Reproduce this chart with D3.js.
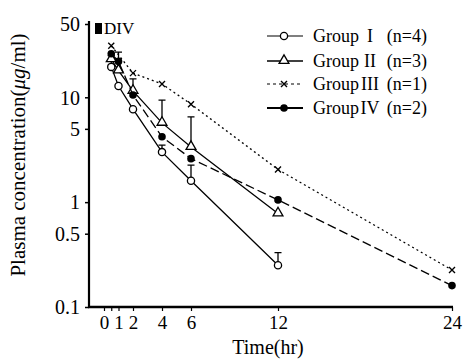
<!DOCTYPE html>
<html>
<head>
<meta charset="utf-8">
<script src="https://cdn.jsdelivr.net/npm/d3@7"></script>
<style>
  body { margin: 0; background: #fff; }
  text { font-family: "Liberation Serif", "DejaVu Serif", serif; fill: #000; }
</style>
</head>
<body>
<div id="chart"></div>
<script>
// values
var yTicks = [0.1, 0.5, 1, 5, 10, 50];
var yTickLabels = ["0.1", "0.5", "1", "5", "10", "50"];
var xTicks = [0, 0.5, 1, 2, 4, 6, 12, 24];
var xTickLabels = ["0", "", "1", "2", "4", "6", "12", "24"];

var timesI = [0.5, 1, 2, 4, 6, 12];
var groupI = [19.5, 12.8, 7.7, 3.0, 1.6, 0.25];
var groupIErr = [25, null, null, 3.5, 2.25, 0.33];

var timesII = [0.5, 1, 2, 4, 6, 12];
var groupII = [23, 18, 11.5, 5.7, 3.35, 0.78];
var groupIIErr = [null, 27, 15, 9.4, 6.5, null];

var timesIII = [0.5, 2, 4, 6, 12, 24];
var groupIII = [31, 17, 13.4, 8.6, 2.05, 0.225];

var timesIV = [0.5, 1, 2, 4, 6, 12, 24];
var groupIV = [26, 22, 10.5, 4.2, 2.6, 1.05, 0.16];

var legendNumerals = ["I", "II", "III", "IV"];
var legendCounts = ["(n=4)", "(n=3)", "(n=1)", "(n=2)"];

var width = 463, height = 363;
var svg = d3.select("#chart").append("svg")
    .attr("width", width)
    .attr("height", height);

var x = d3.scaleLinear().domain([0, 24]).range([104, 452]);
var y = d3.scaleLog().domain([0.1, 50]).range([307, 24]);

// axes
var yAxis = d3.axisLeft(y).tickValues(yTicks)
    .tickFormat(function(d, i) { return yTickLabels[i]; })
    .tickSize(4).tickPadding(5);
var gy = svg.append("g").attr("transform", "translate(89,0)").call(yAxis);
gy.select(".domain").attr("d", "M0,21V307").attr("stroke-width", 2.2);
gy.selectAll(".tick line").attr("stroke-width", 1.5);
gy.selectAll(".tick text").style("font-size", "20px").attr("dy", "0.34em");

var xAxis = d3.axisBottom(x).tickValues(xTicks)
    .tickFormat(function(d, i) { return xTickLabels[i]; })
    .tickSize(4).tickPadding(5);
var gx = svg.append("g").attr("transform", "translate(0,307)").call(xAxis);
gx.select(".domain").attr("d", "M88,0H453").attr("stroke-width", 2.5);
gx.selectAll(".tick line").attr("stroke-width", 1.2);
gx.selectAll(".tick text").style("font-size", "19px");

svg.append("text")
    .attr("x", 268).attr("y", 354)
    .attr("text-anchor", "middle")
    .style("font-size", "20px")
    .text("Time(hr)");

var ylab = svg.append("text")
    .attr("transform", "translate(25,155) rotate(-90)")
    .attr("text-anchor", "middle")
    .style("font-size", "21px");
ylab.append("tspan").text("Plasma concentration(");
ylab.append("tspan").style("font-style", "italic").text("μg");
ylab.append("tspan").text("/ml)");

// DIV marker
svg.append("rect").attr("x", 95).attr("y", 23).attr("width", 7).attr("height", 11).attr("fill", "#000");
svg.append("text").attr("x", 104).attr("y", 34).style("font-size", "17px").text("DIV");

// series
var series = [
  { t: timesI, v: groupI, err: groupIErr, dash: null, mark: "circle" },
  { t: timesII, v: groupII, err: groupIIErr, dash: null, mark: "triangle" },
  { t: timesIII, v: groupIII, err: null, dash: "2,3", mark: "cross" },
  { t: timesIV, v: groupIV, err: null, dash: "9,4", mark: "dot" }
];

var line = d3.line()
    .x(function(d) { return x(d[0]); })
    .y(function(d) { return y(d[1]); });

function drawMark(g, kind, cx, cy) {
  if (kind == "circle") {
    g.append("circle").attr("cx", cx).attr("cy", cy).attr("r", 3.6)
      .attr("fill", "#fff").attr("stroke", "#000").attr("stroke-width", 1.3);
  } else if (kind == "triangle") {
    g.append("path").attr("d", d3.symbol().type(d3.symbolTriangle).size(42)())
      .attr("transform", "translate(" + cx + "," + (cy - 0.5) + ")")
      .attr("fill", "#fff").attr("stroke", "#000").attr("stroke-width", 1.3);
  } else if (kind == "cross") {
    g.append("path").attr("d", "M" + (cx - 3) + "," + (cy - 3) + "L" + (cx + 3) + "," + (cy + 3) +
        "M" + (cx + 3) + "," + (cy - 3) + "L" + (cx - 3) + "," + (cy + 3))
      .attr("stroke", "#000").attr("stroke-width", 1.4);
  } else {
    g.append("circle").attr("cx", cx).attr("cy", cy).attr("r", 3.8).attr("fill", "#000");
  }
}

series.forEach(function(s) {
  var pts = s.t.map(function(t, i) { return [t, s.v[i]]; });
  svg.append("path").datum(pts)
    .attr("d", line)
    .attr("fill", "none")
    .attr("stroke", "#000")
    .attr("stroke-width", 1.3)
    .attr("stroke-dasharray", s.dash);
  if (s.err) {
    s.t.forEach(function(t, i) {
      if (s.err[i] == null) return;
      var cx = x(t);
      svg.append("path")
        .attr("d", "M" + cx + "," + y(s.v[i]) + "V" + y(s.err[i]) +
            "M" + (cx - 3.5) + "," + y(s.err[i]) + "H" + (cx + 3.5))
        .attr("stroke", "#000").attr("stroke-width", 1.3).attr("fill", "none");
    });
  }
  var g = svg.append("g");
  pts.forEach(function(p) { drawMark(g, s.mark, x(p[0]), y(p[1])); });
});

// legend
var legendY = [36, 61, 84, 108];
var legendDash = [null, null, "3,3", null];
var legendWidth = [1.2, 1.6, 1.2, 2];
series.forEach(function(s, i) {
  var ly = legendY[i];
  svg.append("line").attr("x1", 267).attr("x2", 303).attr("y1", ly).attr("y2", ly)
    .attr("stroke", "#000").attr("stroke-width", legendWidth[i])
    .attr("stroke-dasharray", legendDash[i]);
  drawMark(svg.append("g"), s.mark, 284, ly);
  svg.append("text").attr("x", 313).attr("y", ly + 6).style("font-size", "18px").text("Group");
  svg.append("text").attr("x", 370).attr("y", ly + 6).attr("text-anchor", "middle")
    .style("font-size", "18px").text(legendNumerals[i]);
  svg.append("text").attr("x", 427).attr("y", ly + 6).attr("text-anchor", "end")
    .style("font-size", "18px").text(legendCounts[i]);
});
</script>
</body>
</html>
